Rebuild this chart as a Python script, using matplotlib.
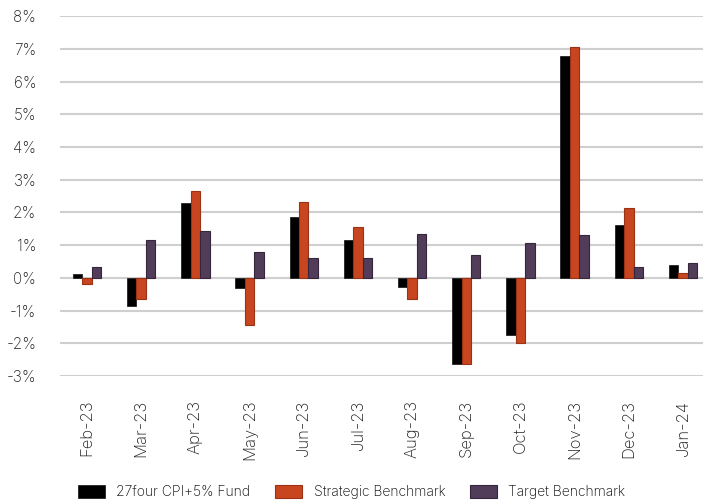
import numpy as np
import matplotlib
matplotlib.use("Agg")
import matplotlib.pyplot as plt
from matplotlib.ticker import FuncFormatter

months = ["Feb-23", "Mar-23", "Apr-23", "May-23", "Jun-23", "Jul-23",
          "Aug-23", "Sep-23", "Oct-23", "Nov-23", "Dec-23", "Jan-24"]
fund = [0.13, -0.85, 2.29, -0.30, 1.86, 1.15, -0.27, -2.64, -1.74, 6.79, 1.62, 0.39]
strategic = [-0.19, -0.66, 2.65, -1.45, 2.32, 1.55, -0.64, -2.62, -1.99, 7.07, 2.12, 0.16]
target = [0.34, 1.17, 1.44, 0.80, 0.61, 0.61, 1.34, 0.69, 1.07, 1.32, 0.34, 0.44]

plt.rcParams['font.family'] = ['Inter', 'DejaVu Sans']

fig = plt.figure(figsize=(7.03, 5.04), dpi=100)
ax = fig.add_axes([0.0853, 0.254, 0.9147, 0.714])

x = np.arange(len(months))
w = 0.175
ax.bar(x - w, fund, w, color="#000000", edgecolor="#222222", linewidth=0.6,
       label="27four CPI+5% Fund", zorder=3)
ax.bar(x, strategic, w, color="#C8461F", edgecolor="#9A3216", linewidth=0.8,
       label="Strategic Benchmark", zorder=3)
ax.bar(x + w, target, w, color="#513C5A", edgecolor="#35263B", linewidth=0.8,
       label="Target Benchmark", zorder=3)

ax.set_ylim(-3, 8)
ax.set_xlim(-0.5, 11.37)
ax.set_yticks(range(-3, 9))
ax.yaxis.set_major_formatter(FuncFormatter(lambda v, p: f"{int(v)}%"))
ax.set_xticks(x)
ax.set_xticklabels(months, rotation=90)
ax.grid(axis="y", color="#CFCFCF", linewidth=1.5, zorder=0)
ax.tick_params(axis="y", length=0, pad=17, labelsize=11, labelcolor="#222222")
ax.tick_params(axis="x", length=0, pad=17, labelsize=12, labelcolor="#222222")
for s in ax.spines.values():
    s.set_visible(False)
for t in ax.get_xticklabels() + ax.get_yticklabels():
    t.set_fontweight("light")

leg = fig.legend(loc="center", bbox_to_anchor=(0.5, 0.024), ncol=3, frameon=False,
                 fontsize=10, handlelength=1.95, handleheight=1.15,
                 handletextpad=0.85, columnspacing=1.75)
for t in leg.get_texts():
    t.set_fontweight("light")

fig.savefig("out.png", dpi=100)
